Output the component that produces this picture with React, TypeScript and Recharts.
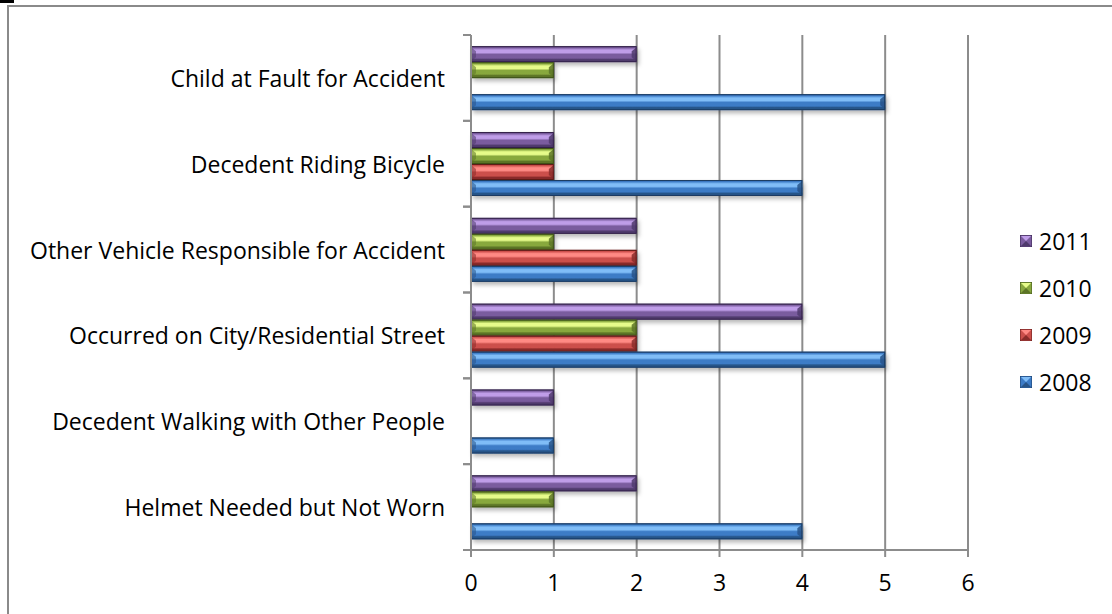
import React from 'react';
import { BarChart, Bar, XAxis, YAxis, CartesianGrid, Legend } from 'recharts';

const causes = [
  'Child at Fault for Accident',
  'Decedent Riding Bicycle',
  'Other Vehicle Responsible for Accident',
  'Occurred on City/Residential Street',
  'Decedent Walking with Other People',
  'Helmet Needed but Not Worn',
];
const y2008 = [5, 4, 2, 5, 1, 4];
const y2009 = [0, 1, 2, 2, 0, 0];
const y2010 = [1, 1, 1, 2, 0, 1];
const y2011 = [2, 1, 2, 4, 1, 2];
const xTicks = [0, 1, 2, 3, 4, 5, 6];

const data = causes.map((name, i) => ({
  name,
  y2008: y2008[i],
  y2009: y2009[i],
  y2010: y2010[i],
  y2011: y2011[i],
}));

type Pal = { key: string; label: string; base: string; light: string; dark: string; edge: string };

// drawn top to bottom inside each category
const series: Pal[] = [
  { key: 'y2011', label: '2011', base: '#7a5c9e', light: '#bf9de8', dark: '#4f3a6c', edge: '#36254c' },
  { key: 'y2010', label: '2010', base: '#88a83e', light: '#e6fb8a', dark: '#5c7426', edge: '#3f5218' },
  { key: 'y2009', label: '2009', base: '#cc4f4b', light: '#ff8a84', dark: '#8a2c2a', edge: '#5e1b1a' },
  { key: 'y2008', label: '2008', base: '#3c7bc6', light: '#80bdf7', dark: '#275488', edge: '#1b3c64' },
];

const FONT = '"Open Sans", sans-serif';
const GRID = '#8c8c8c';

const Gradients = () => (
  <defs>
    {series.map((s) => (
      <linearGradient key={s.key} id={`face-${s.key}`} x1="0" y1="0" x2="0" y2="1">
        <stop offset="0%" stopColor={s.dark} />
        <stop offset="10%" stopColor={s.base} />
        <stop offset="24%" stopColor={s.light} />
        <stop offset="40%" stopColor={s.light} />
        <stop offset="52%" stopColor={s.base} />
        <stop offset="74%" stopColor={s.base} />
        <stop offset="84%" stopColor={s.dark} />
        <stop offset="100%" stopColor={s.dark} />
      </linearGradient>
    ))}
    <filter id="barShadow" x="-5%" y="-30%" width="115%" height="190%">
      <feDropShadow dx="2" dy="3" stdDeviation="2" floodColor="#000" floodOpacity="0.28" />
    </filter>
  </defs>
);

const BevelBar = (props: any) => {
  const { x, y, width, height, pal } = props;
  if (!width || width <= 0 || !height) return null;
  const b = Math.min(5, width / 2, height / 3);
  const x2 = x + width;
  const y2 = y + height;
  return (
    <g filter="url(#barShadow)">
      <rect x={x} y={y} width={width} height={height} fill={`url(#face-${pal.key})`} />
      {/* bevelled ends */}
      <polygon points={`${x},${y + 1} ${x + b},${y + b} ${x + b},${y2 - b} ${x},${y2 - 1}`} fill={pal.dark} opacity={0.55} />
      <polygon points={`${x2},${y + 1} ${x2 - b},${y + b} ${x2 - b},${y2 - b} ${x2},${y2 - 1}`} fill={pal.dark} opacity={0.85} />
      <rect x={x + 0.5} y={y + 0.5} width={width - 1} height={height - 1} fill="none" stroke={pal.edge} strokeWidth={1} />
    </g>
  );
};

const CategoryTick = (props: any) => {
  const { x, y, payload } = props;
  const half = payload && payload.offset ? payload.offset : 43;
  return (
    <g>
      <line x1={x + 18} x2={x + 26} y1={y - half} y2={y - half} stroke={GRID} strokeWidth={2} />
      <line x1={x + 18} x2={x + 26} y1={y + half} y2={y + half} stroke={GRID} strokeWidth={2} />
      <text x={x} y={y} textAnchor="end" dominantBaseline="central" fontFamily={FONT} fontSize={23} fill="#000">
        {payload.value}
      </text>
    </g>
  );
};

const LegendBox = () => (
  <div style={{ fontFamily: FONT, fontSize: 23, color: '#000' }}>
    {series.map((s) => (
      <div key={s.key} style={{ display: 'flex', alignItems: 'center', height: 47 }}>
        <svg width={12} height={12} style={{ marginRight: 7 }}>
          <rect x={0} y={0} width={12} height={12} fill={s.base} stroke={s.edge} />
          <polygon points="1,1 11,1 6,6" fill={s.light} />
          <polygon points="1,11 11,11 6,6" fill={s.dark} />
        </svg>
        <span>{s.label}</span>
      </div>
    ))}
  </div>
);

export default function App() {
  return (
    <div style={{ position: 'absolute', left: 0, top: 0, width: 1112, height: 614, overflow: 'hidden', background: '#fff' }}>
      <div style={{ position: 'absolute', left: 0, top: 0, width: 14, height: 3, background: '#000' }} />
      <div style={{ position: 'absolute', left: 7, top: 5, width: 1200, height: 700, borderLeft: '2px solid #8a8a8a', borderTop: '2px solid #8a8a8a' }} />
      <div style={{ position: 'absolute', left: 0, top: 0 }}>
        <BarChart
          width={1112}
          height={614}
          data={data}
          layout="vertical"
          margin={{ top: 35, right: 144, bottom: 0, left: 0 }}
          barCategoryGap="13%"
          barGap={0}
        >
          <Gradients />
          <CartesianGrid horizontal={false} stroke={GRID} strokeWidth={2} />
          <XAxis
            type="number"
            domain={[0, 6]}
            ticks={xTicks}
            height={64}
            axisLine={{ stroke: GRID, strokeWidth: 2 }}
            tickLine={{ stroke: GRID, strokeWidth: 2 }}
            tickSize={7}
            tickMargin={18}
            tick={{ fill: '#000', fontSize: 23, fontFamily: FONT }}
          />
          <YAxis
            type="category"
            dataKey="name"
            width={471}
            axisLine={{ stroke: GRID, strokeWidth: 2 }}
            tickLine={false}
            tickSize={0}
            tickMargin={26}
            tick={<CategoryTick />}
          />
          <Legend
            layout="vertical"
            align="center"
            verticalAlign="middle"
            content={<LegendBox />}
            wrapperStyle={{ left: 1020, top: 217, width: 90 }}
          />
          {series.map((s) => (
            <Bar
              key={s.key}
              dataKey={s.key}
              name={s.label}
              fill={s.base}
              isAnimationActive={false}
              shape={(p: any) => <BevelBar {...p} pal={s} />}
            />
          ))}
        </BarChart>
      </div>
    </div>
  );
}
